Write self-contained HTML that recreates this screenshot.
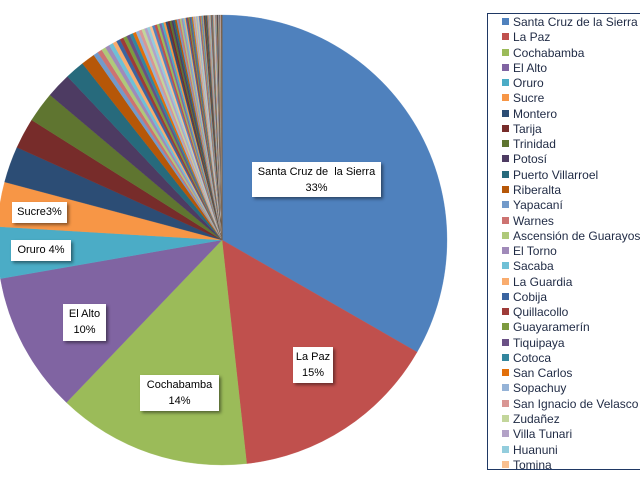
<!DOCTYPE html>
<html><head><meta charset="utf-8"><style>
body{margin:0;background:#fff;width:640px;height:481px;overflow:hidden;position:relative;font-family:"Liberation Sans",sans-serif}
.lb{position:absolute;background:#fff;font-size:11px;color:#000;text-align:center;line-height:16px;box-shadow:2px 2px 3px rgba(0,0,0,.45)}
#leg{position:absolute;left:487px;top:13px;width:160px;height:457px;border:1px solid #1f3864;box-sizing:border-box}
.it{position:absolute;left:14px;font-size:12px;color:#1f2a44;white-space:nowrap;line-height:14px}
.it i{display:inline-block;width:7px;height:7px;margin-right:4px;vertical-align:1px}
</style></head><body>
<svg id="pie" width="640" height="481" style="position:absolute;left:0;top:0"></svg>
<div class="lb" style="left:252px;top:162px;width:129px;height:35px;padding-top:2px;box-sizing:border-box">Santa Cruz de&nbsp; la Sierra<br>33%</div>
<div class="lb" style="left:293px;top:347px;width:40px;height:36px;padding-top:2px;box-sizing:border-box">La Paz<br>15%</div>
<div class="lb" style="left:140px;top:375px;width:79px;height:36px;padding-top:2px;box-sizing:border-box">Cochabamba<br>14%</div>
<div class="lb" style="left:63px;top:304px;width:43px;height:37px;padding-top:2px;box-sizing:border-box">El Alto<br>10%</div>
<div class="lb" style="left:12px;top:202px;width:55px;height:21px;padding-top:2px;box-sizing:border-box">Sucre3%</div>
<div class="lb" style="left:11px;top:240px;width:60px;height:21px;padding-top:2px;box-sizing:border-box">Oruro 4%</div>
<div id="leg"></div>
<script>
var cols=["#4F81BD","#C0504D","#9BBB59","#8064A2","#4BACC6","#F79646","#2C4D75","#772C2A","#5F7530","#4D3B62","#276A7C","#B65708","#729ACA","#CD7371","#AFC97A","#A08AB9","#6FC0D6","#F9AC6E","#3A64A0","#9E3B38","#7D9A3F","#6A5085","#33869E","#E26F0A","#95B3D7","#D99694","#C3D69B","#B3A2C7","#93CDDD","#FAC090"];
var names=["Santa Cruz de la Sierra","La Paz","Cochabamba","El Alto","Oruro","Sucre","Montero","Tarija","Trinidad","Potosí","Puerto Villarroel","Riberalta","Yapacaní","Warnes","Ascensión de Guarayos","El Torno","Sacaba","La Guardia","Cobija","Quillacollo","Guayaramerín","Tiquipaya","Cotoca","San Carlos","Sopachuy","San Ignacio de Velasco","Zudañez","Villa Tunari","Huanuni","Tomina"];
var v=[33.3,14.95,13.9,10.1,3.7,3.2,2.6,2.2,2.2,1.8,1.4,1.0];
var s=v.reduce(function(a,b){return a+b},0),rem=100-s,n=120,g=[],t=0;
for(var k=0;k<n;k++){var x=Math.pow(0.965,k);g.push(x);t+=x;}
g.forEach(function(x){v.push(x*rem/t);});
var cx=222,cy=240,r=225,a=0,h="";
v.forEach(function(p,i){var a2=a+p/100*2*Math.PI;
var x1=cx+r*Math.sin(a),y1=cy-r*Math.cos(a),x2=cx+r*Math.sin(a2),y2=cy-r*Math.cos(a2);
var c=i<30?cols[i]:cols[i%30];
h+='<path d="M'+cx+','+cy+'L'+x1+','+y1+'A'+r+','+r+' 0 '+(p>50?1:0)+' 1 '+x2+','+y2+'Z" fill="'+c+'" stroke="'+c+'" stroke-width="0.3"/>';a=a2;});
document.getElementById('pie').innerHTML=h;
var L="";names.forEach(function(nm,i){L+='<div class="it" style="top:'+(i*15.27+1)+'px"><i style="background:'+cols[i]+'"></i>'+nm+'</div>';});
document.getElementById('leg').innerHTML=L;
</script>
</body></html>
